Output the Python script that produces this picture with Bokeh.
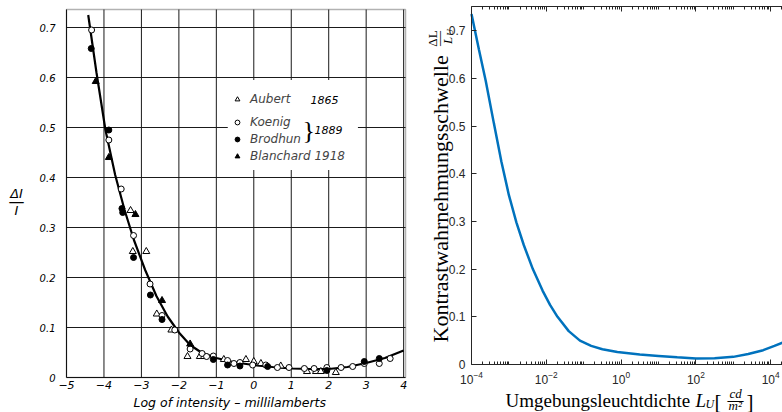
import math
from bokeh.plotting import figure
from bokeh.layouts import row
from bokeh.models import (FixedTicker, Legend, LegendItem, Label, BoxAnnotation, LogAxis, LinearAxis,
                          Range1d, CustomJSTickFormatter)
from bokeh.embed import file_html
from bokeh.resources import INLINE

# ---------------- left panel: historic measurements ----------------
left_xticks = [-5, -4, -3, -2, -1, 0, 1, 2, 3, 4]
left_yticks = [0, 0.1, 0.2, 0.3, 0.4, 0.5, 0.6, 0.7]

aubert_x = [-3.29, -3.23, -2.87, -2.59, -2.20, -1.77, -1.44, -1.33, -0.80, -0.21, 0.0, 0.19, 0.72, 1.42, 1.66, 1.79, 2.19]
aubert_y = [0.334, 0.252, 0.252, 0.127, 0.095, 0.042, 0.042, 0.042, 0.036, 0.036, 0.032, 0.028, 0.023, 0.012, 0.012, 0.012, 0.010]

koenig_x = [-4.33, -3.87, -3.54, -3.21, -2.77, -2.45, -2.11, -1.70, -1.38, -1.26, -1.08, -0.70, -0.53, -0.37, -0.03, 0.32, 0.63, 0.94, 1.35, 1.61, 1.95, 2.33, 2.64, 2.95, 3.35, 3.64]
koenig_y = [0.695, 0.475, 0.377, 0.284, 0.187, 0.124, 0.095, 0.057, 0.048, 0.042, 0.043, 0.034, 0.028, 0.030, 0.025, 0.025, 0.020, 0.020, 0.018, 0.018, 0.020, 0.020, 0.022, 0.028, 0.028, 0.038]

brodhun_x = [-4.34, -3.87, -3.52, -3.50, -3.21, -2.76, -2.45, -1.08, -0.70, -0.37, 0.37, 1.95, 2.95, 3.35]
brodhun_y = [0.658, 0.495, 0.338, 0.330, 0.240, 0.165, 0.116, 0.036, 0.025, 0.023, 0.022, 0.014, 0.032, 0.038]

blanchard_x = [-4.22, -3.87, -3.16, -2.45, -1.70]
blanchard_y = [0.592, 0.440, 0.326, 0.154, 0.067]

fit_x = [-4.42, -4.20, -3.96, -3.70, -3.45, -3.20, -2.90, -2.60, -2.30, -2.00, -1.70, -1.40, -1.00, -0.50, 0.00, 0.50, 1.00, 1.50, 2.00, 2.50, 3.00, 3.50, 4.00]
fit_y = [0.725, 0.610, 0.495, 0.405, 0.335, 0.275, 0.215, 0.163, 0.122, 0.090, 0.065, 0.050, 0.039, 0.030, 0.025, 0.021, 0.018, 0.017, 0.017, 0.021, 0.029, 0.039, 0.054]

# ---------------- right panel: threshold curve ----------------
lum_exp = [-4.00, -3.80, -3.62, -3.40, -3.20, -3.00, -2.80, -2.60, -2.36, -2.10, -1.90, -1.70, -1.40, -1.10, -0.80, -0.50, -0.10, 0.50, 1.00, 1.50, 2.00, 2.50, 3.00, 3.40, 3.80, 4.10, 4.32]
threshold = [0.735, 0.660, 0.595, 0.505, 0.425, 0.355, 0.298, 0.250, 0.200, 0.155, 0.125, 0.100, 0.070, 0.050, 0.039, 0.032, 0.026, 0.021, 0.018, 0.015, 0.0125, 0.013, 0.016, 0.022, 0.030, 0.039, 0.046]
right_xtick_exp = [-4, -2, 0, 2, 4]
right_yticks = [0, 0.1, 0.2, 0.3, 0.4, 0.5, 0.6, 0.7]

lum = [10 ** e for e in lum_exp]

HAND = "DejaVu Sans"
SERIF = "Liberation Serif"
SANS = "Liberation Sans"
AX = "#262626"
H = 412

# ================= left figure (frame fills the whole canvas) =================
LW = 416
LX0, LX1, LY0, LY1 = -5.0, 4.05, 0.0, 0.736
L_left, L_right, L_top, L_bottom = 66, 405, 9, 377
kx = (L_right - L_left) / (LX1 - LX0)
ky = (L_bottom - L_top) / (LY1 - LY0)

p1 = figure(width=LW, height=H,
            x_range=Range1d(LX0 - L_left / kx, LX1 + (LW - L_right) / kx),
            y_range=Range1d(LY0 - (H - L_bottom) / ky, LY1 + L_top / ky),
            x_axis_location=None, y_axis_location=None,
            output_backend="svg", toolbar_location=None,
            min_border_left=0, min_border_right=0, min_border_top=0, min_border_bottom=0)
p1.outline_line_color = None
p1.grid.grid_line_color = None
p1.background_fill_color = "white"
p1.border_fill_color = "white"

# grid lines of the chart paper
p1.segment(x0=left_xticks, y0=[LY0] * len(left_xticks), x1=left_xticks, y1=[LY1] * len(left_xticks),
           line_color="#1a1a1a", line_width=1)
p1.segment(x0=[LX0] * len(left_yticks), y0=left_yticks, x1=[LX1] * len(left_yticks), y1=left_yticks,
           line_color="#1a1a1a", line_width=1)

ax_x = LinearAxis(ticker=FixedTicker(ticks=left_xticks), fixed_location=0, bounds=(LX0, LX1))
ax_y = LinearAxis(ticker=FixedTicker(ticks=left_yticks), fixed_location=LX0, bounds=(LY0, LY1))
for ax in (ax_x, ax_y):
    ax.axis_line_color = None
    ax.major_tick_line_color = None
    ax.minor_tick_line_color = None
    ax.major_tick_in = 0
    ax.major_tick_out = 0
    ax.minor_tick_in = 0
    ax.minor_tick_out = 0
    ax.major_label_text_font = HAND
    ax.major_label_text_font_style = "italic"
    ax.major_label_text_color = "black"
ax_y.major_label_text_font_size = "10px"
ax_x.major_label_text_font_size = "11px"
ax_y.major_label_standoff = 11
ax_x.major_label_standoff = 3
ax_y.major_label_overrides = {0: "0"}
p1.add_layout(ax_x, "below")
p1.add_layout(ax_y, "left")

frame_box = BoxAnnotation(left=LX0, right=LX1, bottom=LY0, top=LY1, fill_alpha=0,
                          line_color="black", line_width=1.5)
p1.add_layout(frame_box)
white_box = BoxAnnotation(left=-0.695, right=2.78, bottom=0.415, top=0.595,
                          fill_color="white", fill_alpha=1.0, line_alpha=0)
p1.add_layout(white_box)

p1.line(fit_x, fit_y, line_color="black", line_width=2.2)
r_aub = p1.scatter(aubert_x, aubert_y, marker="triangle", size=7, fill_color="white", line_color="black", line_width=1)
r_koe = p1.scatter(koenig_x, koenig_y, marker="circle", size=6, fill_color="white", line_color="black", line_width=1)
r_bro = p1.scatter(brodhun_x, brodhun_y, marker="circle", size=6, fill_color="black", line_color="black")
r_bla = p1.scatter(blanchard_x, blanchard_y, marker="triangle", size=7, fill_color="black", line_color="black")


def mk_legend(items, loc):
    lg = Legend(items=items, location=loc, padding=0, margin=0, spacing=3,
                glyph_width=12, glyph_height=12, label_height=12, label_standoff=7,
                border_line_alpha=0, background_fill_alpha=0,
                label_text_font=HAND, label_text_font_style="italic", label_text_font_size="12px")
    p1.add_layout(lg, "center")


# legend positions: (left, bottom) in canvas pixels
mk_legend([LegendItem(label="Aubert", renderers=[r_aub])], (231, H - 106))
mk_legend([LegendItem(label="Koenig", renderers=[r_koe]),
           LegendItem(label="Brodhun", renderers=[r_bro]),
           LegendItem(label="Blanchard 1918", renderers=[r_bla])], (231, H - 163))


def lab(p, text, x, y, size, font=HAND, style="italic", align="left", baseline="alphabetic", angle=0, color="black"):
    # x, y given in canvas pixels measured from the top-left corner
    p.add_layout(Label(x=x, y=H - y, x_units="screen", y_units="screen", text=text,
                       text_font=font, text_font_style=style, text_font_size=size,
                       text_align=align, text_baseline=baseline, angle=angle, text_color=color))


lab(p1, "1865", 310, 99, "11px", baseline="middle")
lab(p1, "}", 302, 130, "26px", font="Liberation Serif", style="normal", baseline="middle")
lab(p1, "1889", 314, 129, "11px", baseline="middle")
lab(p1, "ΔI", 16, 193, "13px", align="center")
lab(p1, "—", 16, 201, "16px", style="normal", align="center")
lab(p1, "I", 16, 210, "13px", align="center")
lab(p1, "Log  of intensity – millilamberts", 133, 402, "12.5px")

# ================= right figure (frame fills the whole canvas) =================
RW = 366
R_org = 416                      # page x of this canvas
R_left, R_right = 471, 782       # page x of 1e-4 and of right canvas edge
R_axis_top, R_axis_bottom = 6, 364
kxr = 37.4                       # px per decade
kyr = 477.0                      # px per unit
RX0 = 10 ** (-4 - (R_left - R_org) / kxr)
RX1 = 10 ** (-4 + (R_right - R_left) / kxr)
RYTOP = (R_axis_bottom - R_axis_top) / kyr

p2 = figure(width=RW, height=H, x_axis_type="log",
            x_range=Range1d(RX0, RX1),
            y_range=Range1d(-(H - R_axis_bottom) / kyr, R_axis_bottom / kyr),
            x_axis_location=None, y_axis_location=None,
            output_backend="svg", toolbar_location=None,
            min_border_left=0, min_border_right=0, min_border_top=0, min_border_bottom=0)
p2.outline_line_color = None
p2.grid.grid_line_color = None
p2.background_fill_color = "white"
p2.border_fill_color = "white"

minor = []
for n in range(-4, 5):
    for k in range(1, 10):
        if not (k == 1 and n % 2 == 0):
            minor.append(k * 10.0 ** n)
xtick = FixedTicker(ticks=[10.0 ** e for e in right_xtick_exp], minor_ticks=minor)

bx = LogAxis(ticker=xtick, fixed_location=0, bounds=(1e-4, RX1))
tx = LogAxis(ticker=xtick, fixed_location=RYTOP, bounds=(1e-4, RX1),
             formatter=CustomJSTickFormatter(code="return ''"))
ly = LinearAxis(ticker=FixedTicker(ticks=right_yticks), fixed_location=1e-4, bounds=(0, RYTOP))
for ax in (bx, tx, ly):
    ax.axis_line_color = AX
    ax.axis_line_width = 1
    ax.major_tick_line_color = AX
    ax.minor_tick_line_color = AX
    ax.major_tick_in = 5
    ax.major_tick_out = 0
    ax.minor_tick_in = 3
    ax.minor_tick_out = 0
    ax.major_label_text_font = SANS
    ax.major_label_text_font_size = "12px"
    ax.major_label_text_color = AX
    ax.major_label_standoff = 6
ly.minor_tick_line_color = None
ly.major_label_overrides = {0: "0"}
p2.add_layout(bx, "below")
p2.add_layout(tx, "above")
p2.add_layout(ly, "left")

p2.line(lum, threshold, line_color="#0072BD", line_width=2.5)


def rlab(text, px, py, size, **kw):
    lab(p2, text, px - R_org, py, size, **kw)


# x axis title
rlab("Umgebungsleuchtdichte", 505, 400, "19px", font=SERIF, style="normal")
rlab("L", 695, 400, "19px", font=SERIF)
rlab("U", 705, 403, "12px", font=SERIF)
rlab("[", 714, 401, "21px", font=SERIF, style="normal")
rlab("cd", 729, 393, "13px", font=SERIF)
rlab("—", 727, 399, "16px", font=SERIF, style="normal")
rlab("m²", 728, 405, "13px", font=SERIF)
rlab("]", 746, 401, "21px", font=SERIF, style="normal")

# y axis title (rotated)
rlab("Kontrastwahrnehmungsschwelle", 440, 342, "22px", font=SERIF, style="normal", angle=math.pi / 2)
rlab("ΔL", 432, 38, "13px", font=SERIF, style="normal", align="center", angle=math.pi / 2)
rlab("—", 438, 38, "15px", font=SERIF, style="normal", align="center", angle=math.pi / 2)
rlab("L", 447, 40, "13px", font=SERIF, align="center", angle=math.pi / 2)
rlab("U", 449, 32, "9px", font=SERIF, align="center", angle=math.pi / 2)

layout = row(p1, p2)
open("out.html", "w").write(file_html(layout, INLINE))
